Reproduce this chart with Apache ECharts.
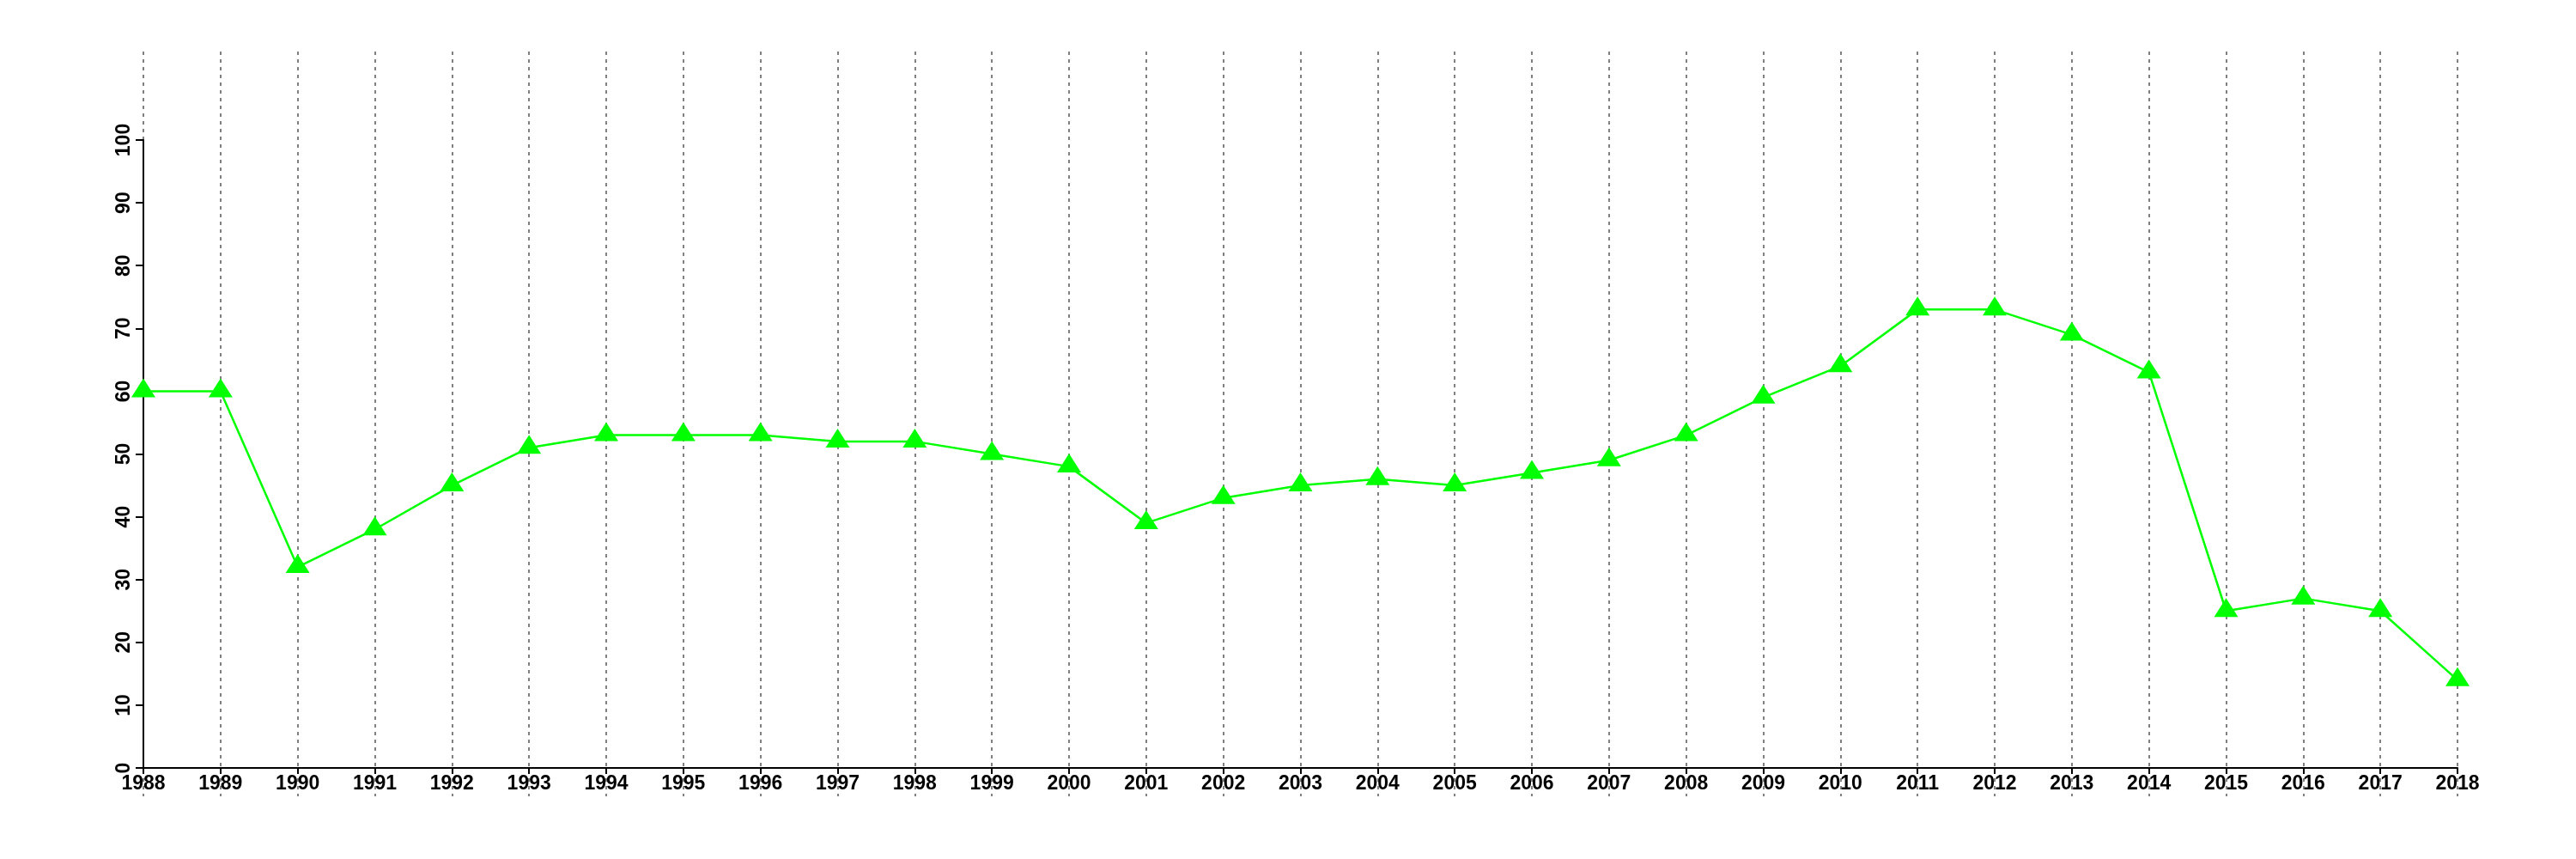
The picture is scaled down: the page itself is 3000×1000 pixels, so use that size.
<!DOCTYPE html>
<html>
<head>
<meta charset="utf-8">
<script src="https://cdn.jsdelivr.net/npm/echarts@6/dist/echarts.min.js"></script>
<style>
html,body{margin:0;padding:0;background:#fff;}
#c{width:3000px;height:1000px;}
</style>
</head>
<body>
<div id="c"></div>
<script>
var years = ['1988','1989','1990','1991','1992','1993','1994','1995','1996','1997','1998','1999','2000','2001','2002','2003','2004','2005','2006','2007','2008','2009','2010','2011','2012','2013','2014','2015','2016','2017','2018'];
var values = [60,60,32,38,45,51,53,53,53,52,52,50,48,39,43,45,46,45,47,49,53,59,64,73,73,69,63,25,27,25,14];
var yMin = 0, yMax = 100, yStep = 10;

var chart = echarts.init(document.getElementById('c'), null, {renderer: 'canvas'});
var font = {fontFamily: 'Liberation Sans', fontWeight: 'bold', fontSize: 23, color: '#000'};
chart.setOption({
  animation: false,
  backgroundColor: '#fff',
  grid: [
    {left: 167, right: 138, top: 163, bottom: 106, containLabel: false},
    {left: 167, right: 138, top: 60, bottom: 73, containLabel: false}
  ],
  xAxis: [
    {
      type: 'category', gridIndex: 0, data: years, boundaryGap: false,
      axisLine: {show: true, lineStyle: {color: '#000', width: 2}},
      axisTick: {show: true, inside: false, length: 7, lineStyle: {color: '#000', width: 2}, alignWithLabel: true},
      axisLabel: Object.assign({show: true, interval: 0, margin: 7}, font),
      splitLine: {show: false}
    },
    {
      type: 'category', gridIndex: 1, data: years, boundaryGap: false,
      axisLine: {show: false}, axisTick: {show: false}, axisLabel: {show: false},
      splitLine: {show: true, interval: 0, lineStyle: {color: '#808080', width: 2, type: [4, 5]}}
    }
  ],
  yAxis: [
    {
      type: 'value', gridIndex: 0, min: yMin, max: yMax, interval: yStep,
      axisLine: {show: true, lineStyle: {color: '#000', width: 2}},
      axisTick: {show: true, inside: false, length: 9, lineStyle: {color: '#000', width: 2}},
      axisLabel: Object.assign({show: true, rotate: 90, margin: 11}, font),
      splitLine: {show: false}
    },
    {
      type: 'value', gridIndex: 1, show: false, splitLine: {show: false}
    }
  ],
  series: [
    {
      type: 'line', xAxisIndex: 0, yAxisIndex: 0, data: values,
      lineStyle: {color: '#00ff00', width: 2.5},
      itemStyle: {color: '#00ff00'},
      symbol: 'triangle', symbolSize: [28, 22], symbolOffset: [0, -4],
      showAllSymbol: true, z: 3
    }
  ]
});
</script>
</body>
</html>
